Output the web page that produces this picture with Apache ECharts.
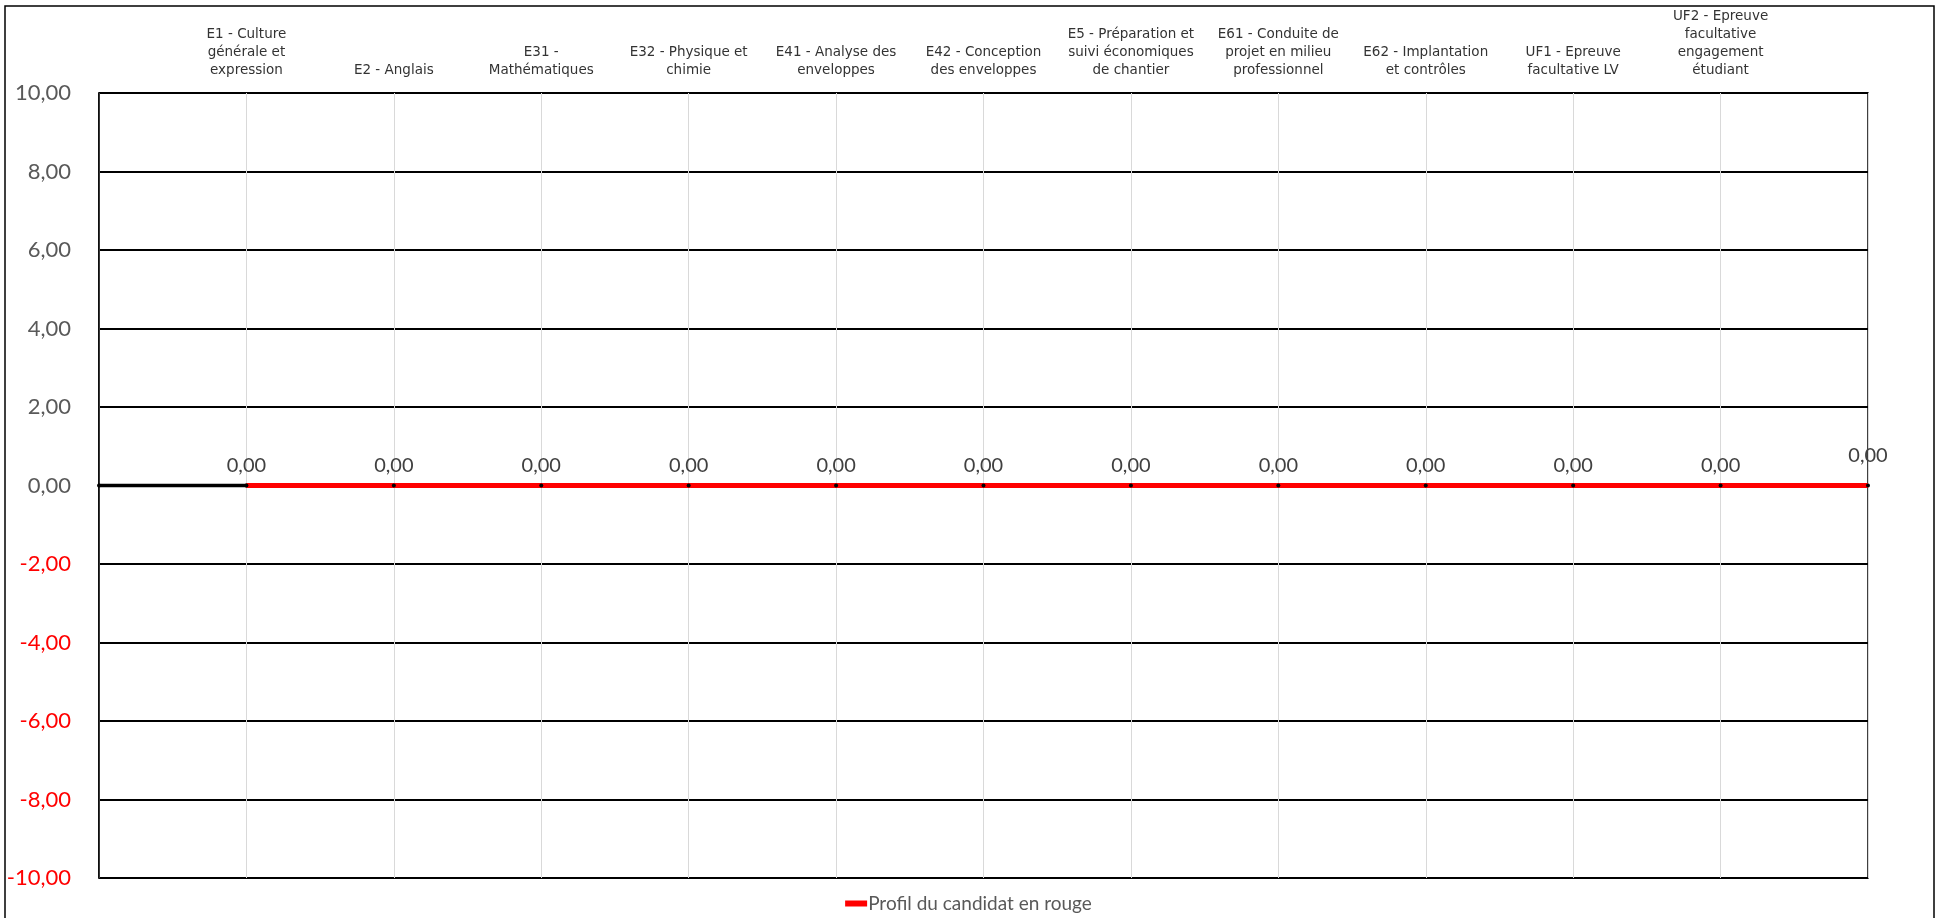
<!DOCTYPE html>
<html>
<head>
<meta charset="utf-8">
<script src="https://cdn.jsdelivr.net/npm/echarts@6/dist/echarts.min.js"></script>
<style>
html,body{margin:0;padding:0;background:#fff;}
#chart{width:1937px;height:918px;}
</style>
</head>
<body>
<div id="chart"></div>
<script>
// Categories (épreuves), with line breaks as in the reference
const categories = [
  'E1 - Culture\ngénérale et\nexpression',
  'E2 - Anglais',
  'E31 -\nMathématiques',
  'E32 - Physique et\nchimie',
  'E41 - Analyse des\nenveloppes',
  'E42 - Conception\ndes enveloppes',
  'E5 - Préparation et\nsuivi économiques\nde chantier',
  'E61 - Conduite de\nprojet en milieu\nprofessionnel',
  'E62 - Implantation\net contrôles',
  'UF1 - Epreuve\nfacultative LV',
  'UF2 - Epreuve\nfacultative\nengagement\nétudiant'
];
// Candidate scores per category
const scores = [0, 0, 0, 0, 0, 0, 0, 0, 0, 0, 0];
// Start and end anchor values of the profile line
const startValue = 0;
const endValue = 0;
// Y axis range
const yMin = -10, yMax = 10, yStep = 2;
const seriesName = 'Profil du candidat en rouge';

const xData = [''].concat(categories).concat(['']);
const profile = [startValue].concat(scores).concat([endValue]);
const lastIdx = profile.length - 1;

const fmt = v => Number(v).toFixed(2).replace('.', ',');

const blackData = profile.map((v, i) => (i <= 1 ? v : null));
const redData = profile.map((v, i) => {
  if (i === 0) return null;
  if (i === lastIdx) return { value: v, label: { offset: [0, -10] } };
  return v;
});

const chart = echarts.init(document.getElementById('chart'), null, { renderer: 'canvas' });
chart.setOption({
  animation: false,
  backgroundColor: '#fff',
  grid: {
    left: 99, right: 69, top: 93, bottom: 40,
    show: true, borderColor: '#000', borderWidth: 1.5, backgroundColor: 'transparent'
  },
  graphic: [{
    type: 'rect', silent: true,
    shape: { x: 5, y: 6, width: 1929, height: 930 },
    style: { fill: 'none', stroke: '#000', lineWidth: 1.5 }
  }],
  legend: {
    data: [{ name: seriesName, icon: 'rect', itemStyle: { color: '#ff0000' } }],
    left: 'center', top: 889,
    itemWidth: 22, itemHeight: 6, itemGap: 2,
    textStyle: { fontFamily: 'Lato', fontSize: 19, color: '#595959', padding: [0, 0, 0, -4] }
  },
  xAxis: {
    type: 'category', position: 'top', boundaryGap: false,
    data: xData,
    axisLine: { show: false }, axisTick: { show: false },
    axisLabel: {
      interval: 0, margin: 14,
      fontFamily: 'DejaVu Sans', fontSize: 13.5, lineHeight: 18, color: '#333',
      align: 'center'
    },
    splitLine: { show: true, lineStyle: { color: '#d9d9d9', width: 1 } }
  },
  yAxis: {
    type: 'value', min: yMin, max: yMax, interval: yStep,
    axisLine: { show: true, lineStyle: { color: '#000', width: 1.5 } },
    axisTick: { show: false },
    axisLabel: {
      margin: 28, fontFamily: 'Lato', fontSize: 22,
      formatter: v => fmt(v),
      color: v => (Number(v) < 0 ? '#ff0000' : '#595959')
    },
    splitLine: { show: true, lineStyle: { color: '#000', width: 2 } }
  },
  series: [
    {
      name: 'start', type: 'line', data: blackData,
      symbol: 'circle', symbolSize: 4, showAllSymbol: true,
      lineStyle: { color: '#000', width: 3.5 },
      itemStyle: { color: '#000' },
      label: { show: false }, z: 3
    },
    {
      name: seriesName, type: 'line', data: redData,
      symbol: 'circle', symbolSize: 4, showAllSymbol: true,
      lineStyle: { color: '#ff0000', width: 5 },
      itemStyle: { color: '#000' },
      label: {
        show: true, position: 'top', distance: 8,
        formatter: p => fmt(p.value),
        fontFamily: 'Lato', fontSize: 20, color: '#404040'
      },
      z: 4
    }
  ]
});
</script>
</body>
</html>
